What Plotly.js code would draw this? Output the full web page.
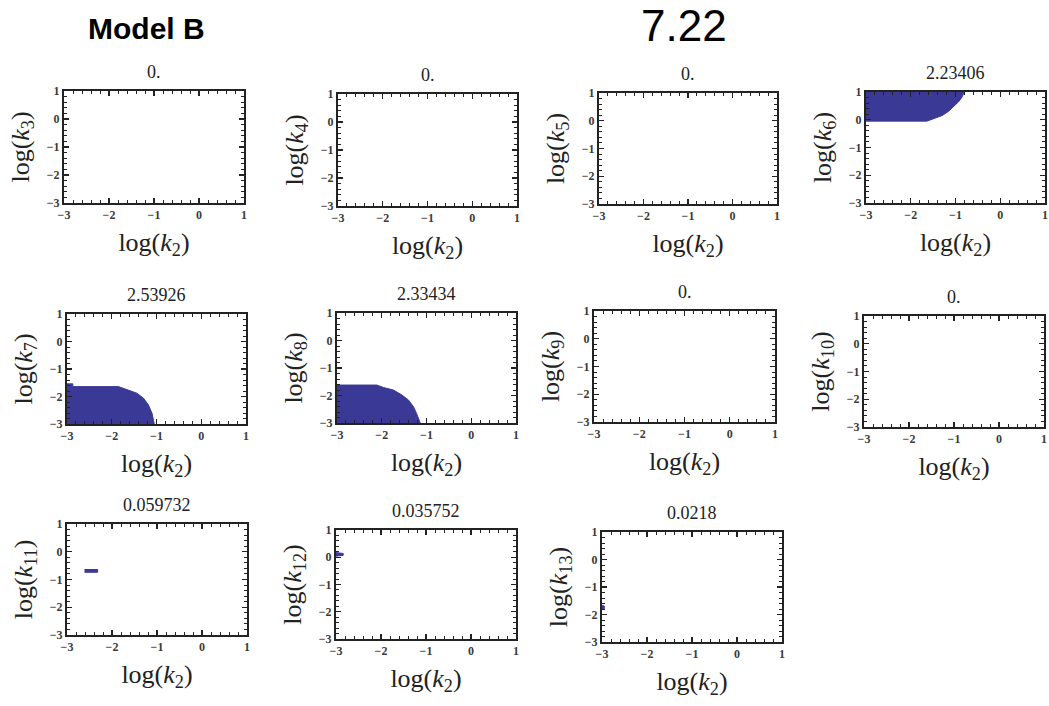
<!DOCTYPE html>
<html>
<head>
<meta charset="utf-8">
<script src="https://cdn.plot.ly/plotly-3.0.1.min.js"></script>
<style>html,body{margin:0;padding:0;background:#fff;} #chart{width:1049px;height:706px;}</style>
</head>
<body>
<div id="chart"></div>
<script>
// ---- Data ----
const headerLeft = "Model B";
const headerRight = "7.22";
const panelValues = ["0.", "0.", "0.", "2.23406", "2.53926", "2.33434", "0.", "0.", "0.059732", "0.035752", "0.0218"];
const yIndices = [3, 4, 5, 6, 7, 8, 9, 10, 11, 12, 13];
const xLabelIndex = 2;
const tickValues = [-3, -2, -1, 0, 1];
const tickLabels = ["\u22123", "\u22122", "\u22121", "0", "1"];

// feasible regions (polygon outlines in log10 space); empty panels have none
const k6X = [-3, -0.81, -0.83, -0.86, -0.93, -1.04, -1.16, -1.30, -1.45, -1.64, -3];
const k6Y = [1, 1, 0.90, 0.80, 0.65, 0.48, 0.30, 0.15, 0.05, -0.05, -0.05];
const k7X = [-3, -3, -2.87, -2.87, -1.85, -1.66, -1.44, -1.29, -1.18, -1.10, -1.07, -1.05];
const k7Y = [-3, -1.54, -1.54, -1.64, -1.64, -1.74, -1.88, -2.06, -2.31, -2.61, -2.91, -3];
const k8X = [-3, -3, -2.11, -1.96, -1.74, -1.55, -1.40, -1.29, -1.22, -1.16, -1.14];
const k8Y = [-3, -1.62, -1.62, -1.71, -1.80, -1.98, -2.17, -2.41, -2.66, -2.96, -3];
const k11X = [-2.61, -2.32, -2.32, -2.61];
const k11Y = [-0.74, -0.74, -0.64, -0.64];
const k12X = [-3, -2.84, -2.84, -3];
const k12Y = [0.04, 0.07, 0.14, 0.17];
const k13X = [-3, -2.95, -2.95, -3];
const k13Y = [-1.81, -1.79, -1.69, -1.67];

const regions = {6: [k6X, k6Y], 7: [k7X, k7Y], 8: [k8X, k8Y], 11: [k11X, k11Y], 12: [k12X, k12Y], 13: [k13X, k13Y]};

// ---- Layout geometry (pixels: left, right, top, bottom) ----
const W = 1049, H = 706;
const boxes = [
  [64, 244, 91, 203], [338, 517, 94, 206], [599, 777, 93, 204], [866, 1045, 92, 203],
  [67, 246, 314, 424], [337, 516, 313, 423], [594, 775, 311, 422], [864, 1044, 316, 427],
  [67, 247, 524, 635], [336, 516, 530, 639], [602, 782, 532, 642]
];

const serif = "Liberation Serif, Times New Roman, serif";
const fillColor = "rgb(58,58,150)";
const frameColor = "#222";

const data = [];
const layout = {
  width: W, height: H,
  margin: {l: 0, r: 0, t: 0, b: 0},
  paper_bgcolor: "#fff", plot_bgcolor: "#fff",
  showlegend: false,
  annotations: [],
  font: {family: serif, color: "#222"}
};

function axisBase(domain, anchor) {
  return {
    domain: domain, anchor: anchor, range: [-3, 1], fixedrange: true,
    tickmode: "array", tickvals: tickValues, ticktext: tickLabels,
    ticks: "inside", ticklen: 5, tickwidth: 1.2, tickcolor: frameColor,
    showline: true, linecolor: frameColor, linewidth: 2, mirror: "allticks",
    showgrid: false, zeroline: false,
    minor: {ticks: "inside", ticklen: 3, tickwidth: 1, tickcolor: frameColor, tick0: -3, dtick: 0.2, showgrid: false},
    tickfont: {family: serif, size: 12, color: "#3a3a3a", weight: "bold"}
  };
}

const N = yIndices.length;
yIndices.forEach((k, i) => {
  const [l, r, t, b] = boxes[i];
  const n = i + 1;
  const sfx = n === 1 ? "" : String(n);
  const xr = "x" + sfx, yr = "y" + sfx;
  const x = axisBase([l / W, r / W], yr);
  x.title = {text: "log(<i>k</i><sub>" + xLabelIndex + "</sub>)", font: {family: serif, size: 26, color: "#222"}, standoff: 11};
  const y = axisBase([1 - b / H, 1 - t / H], xr);
  y.title = {text: "log(<i>k</i><sub>" + k + "</sub>)", font: {family: serif, size: 26, color: "#222"}, standoff: 10};
  layout["xaxis" + sfx] = x;
  layout["yaxis" + sfx] = y;

  // frame ticks on top and right edges
  const m = n + N;
  const xt = axisBase([l / W, r / W], "y" + m);
  xt.overlaying = xr; xt.side = "top"; xt.showticklabels = false; xt.mirror = false;
  const yt = axisBase([1 - b / H, 1 - t / H], "x" + m);
  yt.overlaying = yr; yt.side = "right"; yt.showticklabels = false; yt.mirror = false;
  layout["xaxis" + m] = xt;
  layout["yaxis" + m] = yt;

  const reg = regions[k];
  data.push({
    type: "scatter", mode: "lines",
    x: reg ? reg[0] : [null], y: reg ? reg[1] : [null],
    xaxis: xr, yaxis: yr,
    fill: "toself", fillcolor: fillColor,
    line: {color: fillColor, width: 1},
    hoverinfo: "skip"
  });
  data.push({type: "scatter", mode: "lines", x: [null], y: [null], xaxis: "x" + m, yaxis: "y" + m, hoverinfo: "skip"});

  layout.annotations.push({
    text: panelValues[i], xref: "paper", yref: "paper",
    x: (l + r) / 2 / W, y: 1 - (t - 19) / H,
    xanchor: "center", yanchor: "middle", showarrow: false,
    font: {family: serif, size: 18, color: "#222"}
  });
});

layout.annotations.push({
  text: "<b>" + headerLeft + "</b>", xref: "paper", yref: "paper",
  x: 146 / W, y: 1 - 28 / H, xanchor: "center", yanchor: "middle", showarrow: false,
  font: {family: "Liberation Sans, Arial, sans-serif", size: 30, color: "#000"}
});
layout.annotations.push({
  text: headerRight, xref: "paper", yref: "paper",
  x: 684 / W, y: 1 - 25 / H, xanchor: "center", yanchor: "middle", showarrow: false,
  font: {family: "Liberation Sans, Arial, sans-serif", size: 44, color: "#000"}
});

Plotly.newPlot("chart", data, layout, {displayModeBar: false, staticPlot: true});
</script>
</body>
</html>
